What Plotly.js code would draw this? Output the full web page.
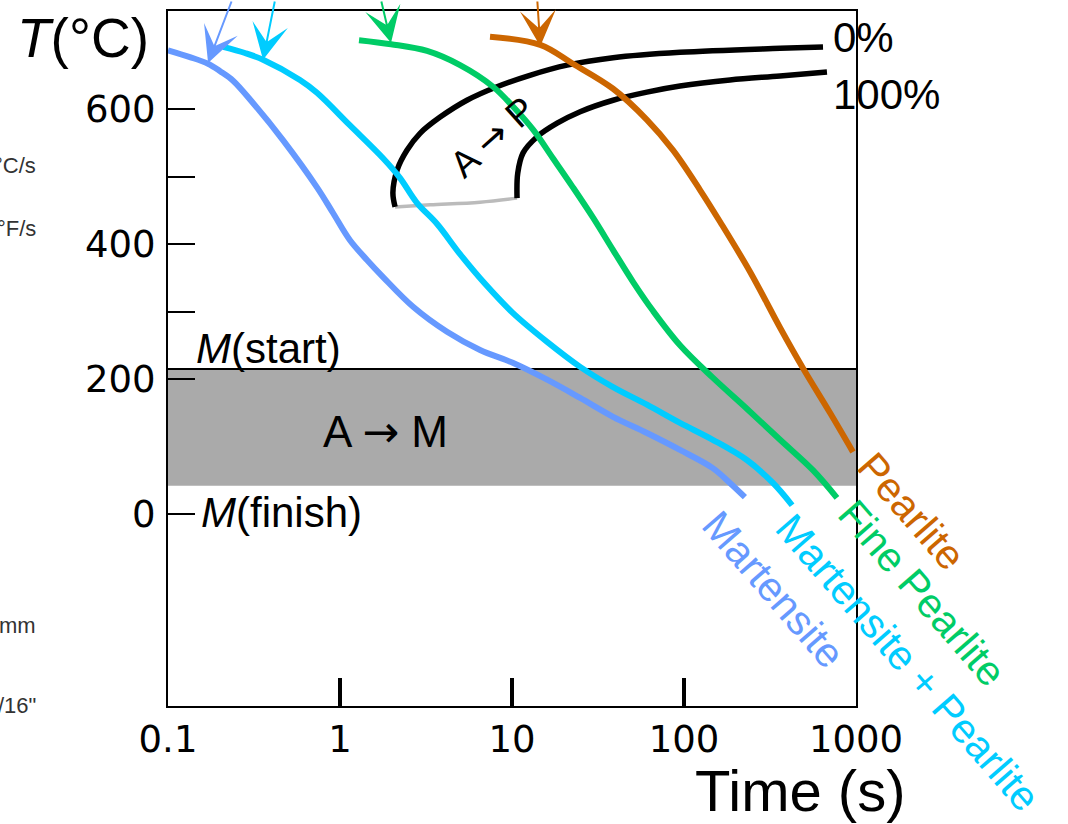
<!DOCTYPE html>
<html>
<head>
<meta charset="utf-8">
<script src="https://cdn.plot.ly/plotly-3.0.1.min.js"></script>
<style>html,body{margin:0;padding:0;background:#fff;}#chart{width:1068px;height:824px;}</style>
</head>
<body>
<div id="chart"></div>
<script>
// ---- data (time in s, temperature in °C) ----
const martensiteTime = [0.1, 0.134, 0.171, 0.201, 0.239, 0.312, 0.466, 0.735, 0.911, 1.14, 1.44, 1.78, 2.66, 4.19, 6.52, 10.1, 16.0, 24.9, 38.7, 60.9, 94.8, 147, 185, 226];
const martensiteTemp = [687, 677, 667, 656, 642, 609, 554, 484, 446, 406, 376, 351, 307, 270, 243, 224, 199, 172, 144, 120, 95, 68, 46, 25];

const martPearliteTime = [0.209, 0.280, 0.357, 0.585, 0.735, 1.14, 1.78, 2.23, 2.80, 3.66, 4.99, 6.97, 10.1, 16.0, 24.9, 38.7, 60.9, 94.8, 147, 232, 329, 425];
const martPearliteTemp = [692, 683, 673, 643, 624, 576, 527, 498, 461, 430, 385, 341, 298, 255, 218, 188, 162, 135, 110, 80, 46, 13];

const finePearliteTime = [1.29, 1.98, 3.21, 4.99, 7.76, 10.1, 13.3, 17.3, 22.6, 29.6, 38.7, 50.5, 66.0, 94.8, 147, 232, 362, 562, 775];
const finePearliteTemp = [702, 696, 686, 665, 633, 604, 569, 527, 484, 439, 391, 344, 301, 250, 202, 156, 110, 65, 24];

const pearliteTime = [7.45, 14.6, 22.6, 38.7, 60.9, 86.3, 124, 162, 242, 362, 492, 706, 960];
const pearliteTemp = [707, 695, 667, 630, 584, 539, 480, 433, 359, 276, 216, 150, 92];

const start0Time = [2.09, 2.03, 2.15, 2.45, 2.92, 3.82, 5.47, 8.18, 12.7, 20.9, 38.7, 94.8, 362, 643];
const start0Temp = [455, 476, 510, 539, 564, 588, 613, 633, 650, 665, 676, 684, 690, 692];

const finish100Time = [10.7, 10.8, 11.6, 14.0, 18.3, 24.9, 38.7, 60.9, 94.8, 185, 362, 678];
const finish100Temp = [468, 505, 535, 559, 579, 596, 613, 625, 634, 643, 649, 655];

const noseTime = [2.09, 3.34, 6.52, 10.7];
const noseTemp = [455, 458, 462, 468];

const mStart = 215;
const mFinish = 42;

const arrowTipTime = [0.171, 0.357, 1.98, 14.6];
const arrowTipTemp = [668, 673, 698, 693];

const xTickVals = [0.1, 1, 10, 100, 1000];
const xTickText = ['0.1', '1', '10', '100', '1000'];
const yTickVals = [0, 200, 300, 400, 500, 600];
const yTickText = ['0', '200', '', '400', '', '600'];

const seriesNames = ['Martensite', 'Martensite + Pearlite', 'Fine Pearlite', 'Pearlite'];
const seriesColors = ['#6699FF', '#00CCFF', '#00CC66', '#CC6600'];

// ---- drawing ----
const FONT = 'Liberation Sans, Arial, Helvetica, sans-serif';
const NUMFONT = 'DejaVu Sans, Liberation Sans, sans-serif';
const ARROW = '<span style="font-family:DejaVu Sans">\u2192</span>';
const L = 168, R = 856, T = 11, B = 706;
const px = v => (v - L) / (R - L);
const py = v => (B - v) / (B - T);

const traces = [];
traces.push({x: noseTime, y: noseTemp, mode: 'lines', line: {color: '#BBBBBB', width: 3.5, shape: 'spline'}, hoverinfo: 'skip'});
traces.push({x: start0Time, y: start0Temp, mode: 'lines', line: {color: '#000', width: 5.5, shape: 'spline'}, hoverinfo: 'skip'});
traces.push({x: finish100Time, y: finish100Temp, mode: 'lines', line: {color: '#000', width: 5.5, shape: 'spline'}, hoverinfo: 'skip'});
const series = [[martensiteTime, martensiteTemp], [martPearliteTime, martPearliteTemp], [finePearliteTime, finePearliteTemp], [pearliteTime, pearliteTemp]];
series.forEach((s, i) => {
  traces.push({x: s[0], y: s[1], mode: 'lines', name: seriesNames[i],
    line: {color: seriesColors[i], width: 6, shape: 'spline', smoothing: 1}, hoverinfo: 'skip'});
});

const annotations = [];
const txt = (text, x, y, size, opts) => Object.assign({
  text: text, xref: 'paper', yref: 'paper', x: px(x), y: py(y), showarrow: false,
  xanchor: 'center', yanchor: 'middle', font: {family: FONT, size: size, color: '#000'}
}, opts || {});

annotations.push(txt('<i>T</i>(°C)', 83, 38, 55));
annotations.push(txt('Time (s)', 800, 790, 58));
annotations.push(txt('<i>M</i>(start)', 194, 348, 42, {xanchor: 'left'}));
annotations.push(txt('<i>M</i>(finish)', 199, 512, 42, {xanchor: 'left'}));
annotations.push(txt('A ' + ARROW + ' M', 385, 431, 44));
annotations.push(txt('A ' + ARROW + ' P', 492, 137, 37, {textangle: -42}));
annotations.push(txt('0%', 831, 37, 42, {xanchor: 'left'}));
annotations.push(txt('100%', 831, 94, 42, {xanchor: 'left'}));

const labelCenters = [[773, 589], [908, 663], [922, 593], [911, 511]];
seriesNames.forEach((n, i) => {
  annotations.push(txt(n, labelCenters[i][0], labelCenters[i][1], 41, {textangle: 49, font: {family: FONT, size: 41, color: seriesColors[i]}}));
});

// cropped side labels of the original figure
const sideLabels = [['°C/s', 166], ['°F/s', 228], ['mm', 625], ['/16"', 705]];
sideLabels.forEach(s => annotations.push(txt(s[0], 38, s[1], 22, {xanchor: 'right', font: {family: FONT, size: 22, color: '#333'}})));

// arrows
const tails = [[24, -75], [12, -72], [-10, -55], [-3, -58]];
arrowTipTime.forEach((t, i) => {
  annotations.push({x: Math.log10(t), y: arrowTipTemp[i], xref: 'x', yref: 'y', text: '', showarrow: true,
    arrowhead: 3, arrowsize: 3, arrowwidth: 2, arrowcolor: seriesColors[i], ax: tails[i][0], ay: tails[i][1], standoff: 0});
});

const shapes = [
  {type: 'rect', xref: 'paper', yref: 'y', x0: 0, x1: 1, y0: mFinish, y1: mStart, fillcolor: '#AAAAAA', line: {width: 0}, layer: 'below'},
  {type: 'line', xref: 'paper', yref: 'y', x0: 0, x1: 1, y0: mStart, y1: mStart, line: {color: '#000', width: 2}, layer: 'below'}
];

const layout = {
  width: 1068, height: 824,
  margin: {l: L, r: 1068 - R, t: T, b: 824 - B, pad: 0},
  paper_bgcolor: '#fff', plot_bgcolor: 'rgba(0,0,0,0)',
  showlegend: false,
  xaxis: {type: 'log', range: [-1, 3], showline: true, mirror: true, linecolor: '#000', linewidth: 2,
    ticks: 'inside', ticklen: 28, tickwidth: 4, tickcolor: '#000', tickvals: xTickVals, ticktext: xTickText,
    tickfont: {family: NUMFONT, size: 37, color: '#000'}, showgrid: false, zeroline: false, ticklabelstandoff: 0},
  yaxis: {range: [-284.4, 745.2], showline: true, mirror: true, linecolor: '#000', linewidth: 2,
    ticks: 'inside', ticklen: 27, tickwidth: 2, tickcolor: '#000', tickvals: yTickVals, ticktext: yTickText,
    tickfont: {family: NUMFONT, size: 37, color: '#000'}, showgrid: false, zeroline: false, ticklabelstandoff: 3},
  shapes: shapes,
  annotations: annotations
};

Plotly.newPlot('chart', traces, layout, {displayModeBar: false, staticPlot: true});
</script>
</body>
</html>
